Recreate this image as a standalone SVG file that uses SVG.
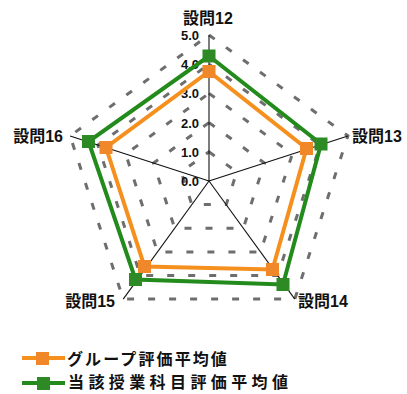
<svg xmlns="http://www.w3.org/2000/svg" width="407" height="394" viewBox="0 0 407 394">
<style>
.ring{fill:none;stroke:#6e6e6e;stroke-width:3;stroke-dasharray:7 14}
.axis{stroke:#111;stroke-width:1.1;fill:none}
.tick{font-family:"Liberation Sans",sans-serif;font-size:13px;font-weight:bold;fill:#111;text-anchor:end}
.cat{font-family:"Liberation Sans","Noto Sans CJK JP",sans-serif;font-size:16px;font-weight:bold;fill:#111}
.leg{font-family:"Noto Sans CJK JP",sans-serif;font-size:16px;font-weight:bold;fill:#111}
.oline{fill:none;stroke:#f5901e;stroke-width:4;stroke-linejoin:miter}
.gline{fill:none;stroke:#238a1c;stroke-width:4;stroke-linejoin:miter}
.om{fill:#f0882a}
.gm{fill:#2e8a24}
</style>
<rect width="407" height="394" fill="#fff"/>
<g id="grid">
<polygon class="ring" points="209,151.8 236.8,172 226.2,204.6 191.8,204.6 181.2,172"/>
<polygon class="ring" points="209,122.6 264.5,163 243.3,228.2 174.7,228.2 153.5,163"/>
<polygon class="ring" points="209,93.4 292.3,154.1 260.5,251.9 157.5,251.9 125.7,154.1"/>
<polygon class="ring" points="209,64.2 320.1,145.1 277.6,275.5 140.4,275.5 97.9,145.1"/>
<polygon class="ring" points="209,35 347.9,135.9 294.8,299.1 123.2,299.1 70.1,135.9"/>
</g>
<g id="connectors">
<line class="axis" x1="209" y1="181" x2="209" y2="35"/>
<line class="axis" x1="209" y1="181" x2="347.9" y2="135.9"/>
<line class="axis" x1="209" y1="181" x2="294.8" y2="299.1"/>
<line class="axis" x1="209" y1="181" x2="123.2" y2="299.1"/>
<line class="axis" x1="209" y1="181" x2="70.1" y2="135.9"/>
</g>
<g id="ticks">
<text class="tick" x="199" y="40">5.0</text>
<text class="tick" x="199" y="69">4.0</text>
<text class="tick" x="199" y="98">3.0</text>
<text class="tick" x="199" y="128">2.0</text>
<text class="tick" x="199" y="157">1.0</text>
<text class="tick" x="199" y="186">0.0</text>
</g>
<g id="labels">
<text class="cat" x="208" y="24" text-anchor="middle">設問12</text>
<text class="cat" x="352" y="142">設問13</text>
<text class="cat" x="298" y="307">設問14</text>
<text class="cat" x="115" y="307" text-anchor="end">設問15</text>
<text class="cat" x="63" y="142" text-anchor="end">設問16</text>
</g>
<g id="series-group">
<polygon class="oline" points="209,71.5 306.5,148.5 272.5,269.5 144.5,266.5 106,147.5"/>
<rect class="om" x="202.5" y="65" width="13" height="13"/>
<rect class="om" x="300" y="142" width="13" height="13"/>
<rect class="om" x="266" y="263" width="13" height="13"/>
<rect class="om" x="138" y="260" width="13" height="13"/>
<rect class="om" x="99.5" y="141" width="13" height="13"/>
</g>
<g id="series-course">
<polygon class="gline" points="209,56 321,144 283,284.5 135.5,279.5 88.5,141.5"/>
<rect class="gm" x="202.5" y="49.5" width="13" height="13"/>
<rect class="gm" x="314.5" y="137.5" width="13" height="13"/>
<rect class="gm" x="276.5" y="278" width="13" height="13"/>
<rect class="gm" x="129" y="273" width="13" height="13"/>
<rect class="gm" x="82" y="135" width="13" height="13"/>
</g>
<g id="legend">
<line x1="22" y1="358" x2="65" y2="358" stroke="#f5901e" stroke-width="4"/>
<rect class="om" x="36" y="352" width="13" height="13"/>
<text class="leg" x="67" y="365" letter-spacing="2.1">グループ評価平均値</text>
<line x1="22" y1="383" x2="65" y2="383" stroke="#238a1c" stroke-width="4"/>
<rect class="gm" x="37" y="377" width="13" height="13"/>
<text class="leg" x="68" y="388" letter-spacing="4.4">当該授業科目評価平均値</text>
</g>
</svg>
